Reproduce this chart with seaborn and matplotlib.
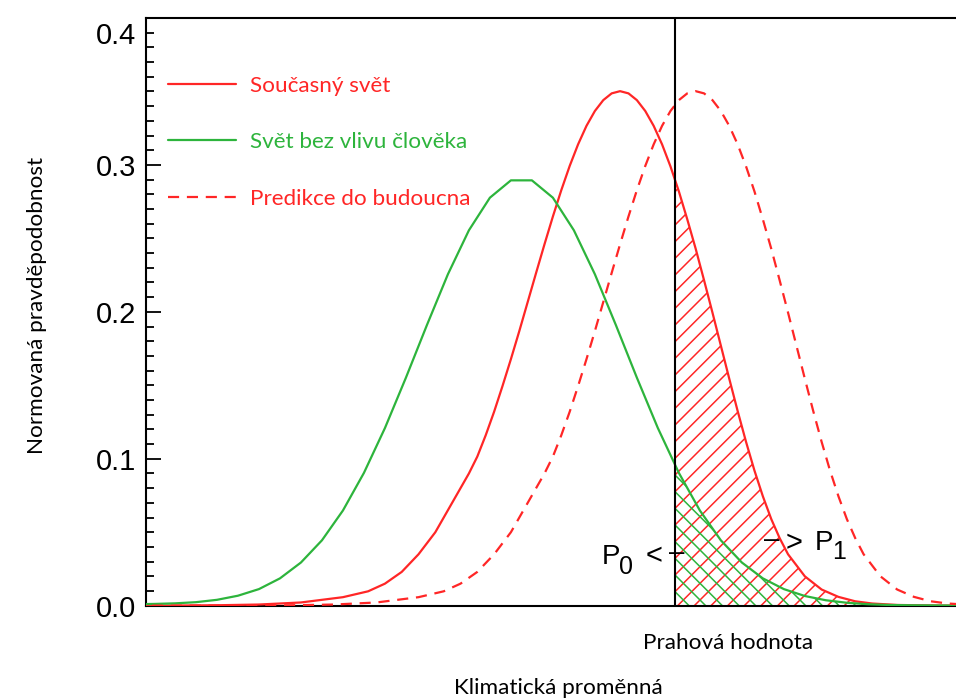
import matplotlib
matplotlib.use("Agg")
import matplotlib.pyplot as plt
import seaborn as sns
from matplotlib.patches import Rectangle
from matplotlib.ticker import MultipleLocator

# ── Data ───────────────────────────────────────────────────
labels = ["Současný svět", "Svět bez vlivu člověka", "Predikce do budoucna"]

x_green = [0.0, 0.25, 0.5, 0.75, 1.0, 1.25, 1.5, 1.75, 2.0, 2.25, 2.5, 2.75,
           3.0, 3.25, 3.5, 3.75, 4.0, 4.25, 4.5, 4.75, 5.0, 5.25, 5.5, 5.75,
           6.0, 6.25, 6.5, 6.75, 7.0, 7.25, 7.5, 7.75, 8.0, 8.25, 8.5, 8.75,
           9.0, 9.25, 9.5, 9.75, 10.0]
y_green = [0.0010, 0.0012, 0.0016, 0.0024, 0.0040, 0.0068, 0.0113, 0.0186,
           0.0294, 0.0445, 0.0648, 0.0904, 0.1209, 0.1552, 0.1910, 0.2256,
           0.2555, 0.2777, 0.2895, 0.2895, 0.2777, 0.2555, 0.2256, 0.1910,
           0.1552, 0.1209, 0.0904, 0.0648, 0.0445, 0.0294, 0.0186, 0.0113,
           0.0066, 0.0037, 0.0020, 0.0010, 0.0005, 0.0003, 0.0002, 0.0001,
           0.0001]

x_now = [0.0, 0.5, 1.0, 1.5, 2.0, 2.5, 2.8, 3.0, 3.2, 3.4, 3.6, 3.8,
         3.9, 4.0, 4.1, 4.2, 4.3, 4.4, 4.5, 4.6, 4.7, 4.8, 4.9, 5.0, 5.1,
         5.2, 5.3, 5.4, 5.5, 5.6, 5.7, 5.8, 5.9, 6.0, 6.1, 6.2, 6.3, 6.4,
         6.5, 6.6, 6.7, 6.8, 6.9, 7.0, 7.1, 7.2, 7.3, 7.4, 7.5, 7.6, 7.7,
         7.8, 8.0, 8.2, 8.4, 8.6, 8.8, 9.1, 9.6, 10.0]
y_now = [0.0000, 0.0001, 0.0003, 0.0008, 0.0022, 0.0058, 0.0098, 0.0150,
         0.0230, 0.0350, 0.0500, 0.0700,
         0.0800, 0.0900, 0.1015, 0.1160, 0.1320, 0.1495, 0.1678, 0.1869,
         0.2067, 0.2265, 0.2460, 0.2649, 0.2828, 0.2993, 0.3140, 0.3266,
         0.3367, 0.3441, 0.3487, 0.3502, 0.3487, 0.3441, 0.3367, 0.3266,
         0.3140, 0.2990, 0.2820, 0.2630, 0.2430, 0.2215, 0.1995, 0.1770,
         0.1545, 0.1325, 0.1115, 0.0920, 0.0745, 0.0590, 0.0460,
         0.0350, 0.0200, 0.0110, 0.0060, 0.0030, 0.0015, 0.0005, 0.0001,
         0.0000]

x_future = [0.0, 1.4, 1.9, 2.4, 2.9, 3.4, 3.7, 3.9, 4.1, 4.3, 4.5, 4.7,
            4.8, 4.9, 5.0, 5.1, 5.2, 5.3, 5.4, 5.5, 5.6, 5.7, 5.8, 5.9, 6.0,
            6.1, 6.2, 6.3, 6.4, 6.5, 6.6, 6.7, 6.8, 6.9, 7.0, 7.1, 7.2, 7.3,
            7.4, 7.5, 7.6, 7.7, 7.8, 7.9, 8.0, 8.1, 8.2, 8.3, 8.4, 8.5, 8.6,
            8.7, 8.9, 9.1, 9.3, 9.5, 9.7, 10.0]
y_future = [0.0000, 0.0001, 0.0003, 0.0008, 0.0022, 0.0058, 0.0098, 0.0150,
            0.0230, 0.0350, 0.0500, 0.0700,
            0.0800, 0.0900, 0.1015, 0.1160, 0.1320, 0.1495, 0.1678, 0.1869,
            0.2067, 0.2265, 0.2460, 0.2649, 0.2828, 0.2993, 0.3140, 0.3266,
            0.3367, 0.3441, 0.3487, 0.3502, 0.3487, 0.3441, 0.3367, 0.3266,
            0.3140, 0.2990, 0.2820, 0.2630, 0.2430, 0.2215, 0.1995, 0.1770,
            0.1545, 0.1325, 0.1115, 0.0920, 0.0745, 0.0590, 0.0460,
            0.0350, 0.0200, 0.0110, 0.0060, 0.0030, 0.0015, 0.0005]

threshold = 6.45
y_ticks = [0.0, 0.1, 0.2, 0.3, 0.39]
y_ticklabels = ["0.0", "0.1", "0.2", "0.3", "0.4"]

RED = "#ff2626"
GREEN = "#2db43c"
W, H = 956, 699


def fpos(px, py):
    # pixel position in the 956x699 picture -> figure fraction
    return px / W, 1 - py / H


# ── Style ──────────────────────────────────────────────────
sns.set_theme(style="white")
plt.rcParams["font.family"] = ["Liberation Sans", "DejaVu Sans"]
plt.rcParams["hatch.linewidth"] = 1.1

fig = plt.figure(figsize=(W / 100, H / 100), dpi=100)
ax = fig.add_axes([146 / W, 1 - 605.7 / H, (W - 146) / W, (605.7 - 18) / H])

# ── Hatched tails beyond the threshold ─────────────────────
clip_now = Rectangle((threshold, 0), 10, 1, transform=ax.transData)
hatch_now = ax.fill_between(x_now, y_now, facecolor="none", edgecolor=RED,
                            hatch="//", linewidth=0, zorder=1)
hatch_now.set_clip_path(clip_now)

clip_green = Rectangle((threshold, 0), 10, 1, transform=ax.transData)
hatch_green = ax.fill_between(x_green, y_green, facecolor="none",
                              edgecolor=GREEN, hatch="\\\\", linewidth=0,
                              zorder=1)
hatch_green.set_clip_path(clip_green)

# ── Curves ─────────────────────────────────────────────────
sns.lineplot(x=x_now, y=y_now, color=RED, lw=1.6, ax=ax, label=labels[0],
             zorder=3)
sns.lineplot(x=x_green, y=y_green, color=GREEN, lw=1.6, ax=ax,
             label=labels[1], zorder=3)
sns.lineplot(x=x_future, y=y_future, color=RED, lw=1.6, ax=ax,
             label=labels[2], linestyle=(0, (5, 3.5)), zorder=3)

ax.axvline(threshold, color="black", lw=1.5, zorder=4)

# ── Axes ───────────────────────────────────────────────────
ax.set_xlim(0.155, 9.8)
ax.set_ylim(0, 0.4)
ax.set_xticks([])
ax.set_yticks(y_ticks, y_ticklabels)
ax.yaxis.set_minor_locator(MultipleLocator(0.01))
ax.tick_params(axis="y", which="major", direction="in", length=11,
               width=1.3, pad=7, left=True, color="black",
               labelcolor="black", labelsize=21)
ax.tick_params(axis="y", which="minor", direction="in", length=6,
               width=1.3, left=True, color="black")
ax.yaxis.get_major_ticks()[-1].tick1line.set_markersize(6)
for side in ["left", "bottom", "top"]:
    ax.spines[side].set_color("black")
    ax.spines[side].set_linewidth(1.5)
ax.spines["right"].set_visible(False)
ax.set_xlabel("")
ax.set_ylabel("")

leg = ax.legend(loc="upper left", bbox_to_anchor=(0.027, 0.902),
                borderaxespad=0, borderpad=0, frameon=False,
                handlelength=3.02, handletextpad=0.62, labelspacing=1.63,
                labelcolor="linecolor", prop={"family": "Lato", "size": 16.2})

# ── Texts ──────────────────────────────────────────────────
lab = {"family": "Lato", "size": 16.2, "color": "black"}
fig.text(*fpos(728, 643), "Prahová hodnota", ha="center", va="center", **lab)
fig.text(*fpos(558, 688), "Klimatická proměnná", ha="center", va="center",
         **lab)
fig.text(*fpos(37, 305), "Normovaná pravděpodobnost", ha="center",
         va="center", rotation=90, **lab)

pk = {"family": "Liberation Sans", "color": "black"}
fig.text(*fpos(602, 564), "P", ha="left", va="baseline", size=20, **pk)
fig.text(*fpos(619, 574), "0", ha="left", va="baseline", size=18, **pk)
fig.text(*fpos(646, 556), "<", ha="left", va="center", size=21, **pk)
fig.text(*fpos(669, 553), "–", ha="left", va="center", size=20, **pk)
fig.text(*fpos(764, 540), "–", ha="left", va="center", size=20, **pk)
fig.text(*fpos(786, 543), ">", ha="left", va="center", size=21, **pk)
fig.text(*fpos(815, 550), "P", ha="left", va="baseline", size=20, **pk)
fig.text(*fpos(832, 559), "1", ha="left", va="baseline", size=18, **pk)

fig.savefig("out.png", dpi=100)
